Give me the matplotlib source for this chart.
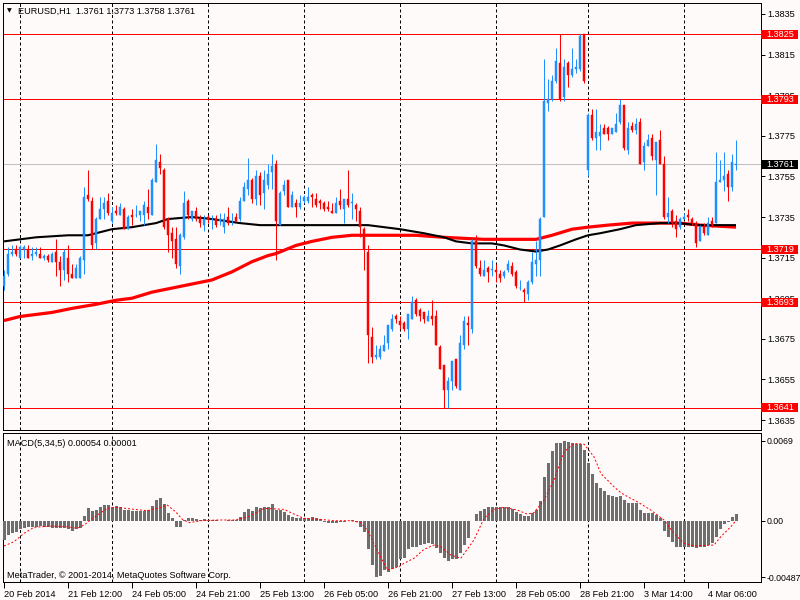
import matplotlib
matplotlib.use("Agg")
import matplotlib.pyplot as plt
from matplotlib.patches import Rectangle
import numpy as np

plt.rcParams['font.family'] = ['Liberation Sans', 'DejaVu Sans']

# EURUSD H1, one candle per hour from 20 Feb 2014 20:00 to 4 Mar 2014 07:00
opens = [
    1.3701, 1.3707, 1.3717, 1.3719, 1.3715, 1.3719, 1.3719, 1.3716, 1.3717, 1.3717,
    1.3715, 1.3716, 1.3713, 1.3718, 1.3713, 1.3709, 1.3715, 1.3707, 1.3705, 1.3705,
    1.3714, 1.3746, 1.3743, 1.3722, 1.3734, 1.3739, 1.3743, 1.3733, 1.3738, 1.3736,
    1.3739, 1.3729, 1.3736, 1.3736, 1.3736, 1.3736, 1.3740, 1.3736, 1.3752, 1.3762,
    1.3758, 1.3734, 1.3727, 1.3724, 1.3711, 1.3725, 1.3743, 1.3734, 1.3738, 1.3734,
    1.3731, 1.3735, 1.3734, 1.3734, 1.3733, 1.3730, 1.3735, 1.3733, 1.3735, 1.3734,
    1.3743, 1.3749, 1.3753, 1.3744, 1.3755, 1.3747, 1.3751, 1.3757, 1.3761, 1.3731,
    1.3748, 1.3753, 1.3740, 1.3742, 1.3740, 1.3743, 1.3743, 1.3746, 1.3744, 1.3743,
    1.3742, 1.3740, 1.3738, 1.3737, 1.3743, 1.3739, 1.3744, 1.3742, 1.3741, 1.3738,
    1.3729, 1.3718, 1.3676, 1.3666, 1.3666, 1.3669, 1.3673, 1.3680, 1.3686, 1.3684,
    1.3683, 1.3680, 1.3685, 1.3694, 1.3689, 1.3688, 1.3684, 1.3686, 1.3686, 1.3671,
    1.3662, 1.3650, 1.3654, 1.3665, 1.3650, 1.3672, 1.3683, 1.3680, 1.3723, 1.3710,
    1.3706, 1.3710, 1.3709, 1.3709, 1.3707, 1.3706, 1.3709, 1.3711, 1.3708, 1.3700,
    1.3699, 1.3697, 1.3703, 1.3712, 1.3714, 1.3735, 1.3791, 1.3793, 1.3802, 1.3811,
    1.3794, 1.3811, 1.3805, 1.3808, 1.3808, 1.3825, 1.3758, 1.3785, 1.3774, 1.3775,
    1.3779, 1.3779, 1.3776, 1.3777, 1.3782, 1.3790, 1.3768, 1.3780, 1.3778, 1.3782,
    1.3762, 1.3770, 1.3774, 1.3763, 1.3773, 1.3761, 1.3735, 1.3738, 1.3733, 1.3730,
    1.3734, 1.3736, 1.3734, 1.3732, 1.3723, 1.3730, 1.3726, 1.3733, 1.3732, 1.3752,
    1.3753, 1.3756, 1.3750, 1.3761,
]
highs = [
    1.3709, 1.3720, 1.3721, 1.3721, 1.3721, 1.3721, 1.3721, 1.3720, 1.3720, 1.3720,
    1.3717, 1.3717, 1.3718, 1.3724, 1.3716, 1.3719, 1.3721, 1.3712, 1.3712, 1.3716,
    1.3750, 1.3758, 1.3745, 1.3735, 1.3745, 1.3745, 1.3747, 1.3740, 1.3741, 1.3742,
    1.3740, 1.3736, 1.3739, 1.3741, 1.3738, 1.3743, 1.3749, 1.3754, 1.3771, 1.3766,
    1.3759, 1.3735, 1.3730, 1.3730, 1.3727, 1.3748, 1.3744, 1.3738, 1.3740, 1.3736,
    1.3736, 1.3736, 1.3736, 1.3736, 1.3737, 1.3737, 1.3740, 1.3737, 1.3737, 1.3745,
    1.3752, 1.3764, 1.3754, 1.3758, 1.3757, 1.3758, 1.3761, 1.3766, 1.3763, 1.3748,
    1.3753, 1.3753, 1.3748, 1.3744, 1.3746, 1.3746, 1.3750, 1.3747, 1.3747, 1.3744,
    1.3743, 1.3743, 1.3742, 1.3745, 1.3749, 1.3744, 1.3758, 1.3747, 1.3742, 1.3740,
    1.3730, 1.3721, 1.3681, 1.3672, 1.3672, 1.3677, 1.3682, 1.3687, 1.3687, 1.3686,
    1.3684, 1.3687, 1.3696, 1.3695, 1.3690, 1.3688, 1.3689, 1.3694, 1.3689, 1.3672,
    1.3662, 1.3656, 1.3664, 1.3665, 1.3677, 1.3686, 1.3686, 1.3724, 1.3726, 1.3714,
    1.3714, 1.3711, 1.3714, 1.3712, 1.3709, 1.3709, 1.3714, 1.3713, 1.3709, 1.3704,
    1.3700, 1.3704, 1.3718, 1.3723, 1.3735, 1.3813, 1.3803, 1.3805, 1.3818, 1.3825,
    1.3813, 1.3812, 1.3818, 1.3813, 1.3825, 1.3825, 1.3786, 1.3788, 1.3788, 1.3781,
    1.3781, 1.3780, 1.3779, 1.3786, 1.3793, 1.3790, 1.3782, 1.3782, 1.3784, 1.3784,
    1.3772, 1.3776, 1.3776, 1.3772, 1.3778, 1.3765, 1.3745, 1.3739, 1.3736, 1.3735,
    1.3737, 1.3739, 1.3735, 1.3733, 1.3731, 1.3732, 1.3735, 1.3735, 1.3767, 1.3763,
    1.3767, 1.3758, 1.3766, 1.3773,
]
lows = [
    1.3699, 1.3706, 1.3716, 1.3716, 1.3715, 1.3715, 1.3715, 1.3714, 1.3716, 1.3715,
    1.3714, 1.3713, 1.3713, 1.3706, 1.3701, 1.3704, 1.3703, 1.3705, 1.3705, 1.3705,
    1.3707, 1.3743, 1.3719, 1.3719, 1.3734, 1.3734, 1.3736, 1.3732, 1.3736, 1.3736,
    1.3729, 1.3729, 1.3731, 1.3735, 1.3733, 1.3731, 1.3734, 1.3736, 1.3752, 1.3756,
    1.3729, 1.3718, 1.3715, 1.3710, 1.3707, 1.3724, 1.3734, 1.3733, 1.3733, 1.3730,
    1.3728, 1.3732, 1.3729, 1.3730, 1.3731, 1.3727, 1.3731, 1.3731, 1.3733, 1.3733,
    1.3743, 1.3746, 1.3742, 1.3741, 1.3741, 1.3739, 1.3749, 1.3749, 1.3714, 1.3731,
    1.3746, 1.3740, 1.3740, 1.3735, 1.3739, 1.3742, 1.3742, 1.3740, 1.3740, 1.3739,
    1.3738, 1.3738, 1.3737, 1.3737, 1.3739, 1.3732, 1.3740, 1.3734, 1.3733, 1.3725,
    1.3709, 1.3663, 1.3663, 1.3665, 1.3665, 1.3669, 1.3670, 1.3679, 1.3683, 1.3680,
    1.3679, 1.3675, 1.3685, 1.3686, 1.3684, 1.3683, 1.3684, 1.3682, 1.3672, 1.3660,
    1.3641, 1.3641, 1.3650, 1.3651, 1.3650, 1.3670, 1.3672, 1.3678, 1.3710, 1.3706,
    1.3706, 1.3703, 1.3706, 1.3703, 1.3703, 1.3705, 1.3708, 1.3706, 1.3700, 1.3699,
    1.3693, 1.3694, 1.3702, 1.3706, 1.3706, 1.3735, 1.3787, 1.3792, 1.3801, 1.3792,
    1.3792, 1.3799, 1.3804, 1.3806, 1.3807, 1.3801, 1.3755, 1.3773, 1.3768, 1.3768,
    1.3776, 1.3773, 1.3776, 1.3777, 1.3781, 1.3768, 1.3766, 1.3777, 1.3776, 1.3761,
    1.3758, 1.3770, 1.3763, 1.3746, 1.3761, 1.3734, 1.3732, 1.3730, 1.3725, 1.3729,
    1.3734, 1.3733, 1.3731, 1.3720, 1.3723, 1.3726, 1.3726, 1.3730, 1.3732, 1.3752,
    1.3748, 1.3743, 1.3748, 1.3758,
]
closes = [
    1.3706, 1.3717, 1.3718, 1.3717, 1.3720, 1.3720, 1.3715, 1.3717, 1.3718, 1.3715,
    1.3716, 1.3714, 1.3717, 1.3713, 1.3709, 1.3718, 1.3707, 1.3705, 1.3710, 1.3715,
    1.3745, 1.3744, 1.3721, 1.3734, 1.3739, 1.3742, 1.3737, 1.3737, 1.3737, 1.3740,
    1.3729, 1.3735, 1.3735, 1.3736, 1.3738, 1.3741, 1.3737, 1.3753, 1.3763, 1.3759,
    1.3730, 1.3726, 1.3723, 1.3712, 1.3726, 1.3742, 1.3736, 1.3738, 1.3734, 1.3732,
    1.3734, 1.3734, 1.3734, 1.3731, 1.3734, 1.3734, 1.3732, 1.3733, 1.3733, 1.3743,
    1.3750, 1.3753, 1.3744, 1.3755, 1.3746, 1.3753, 1.3756, 1.3760, 1.3733, 1.3747,
    1.3751, 1.3740, 1.3746, 1.3740, 1.3742, 1.3745, 1.3745, 1.3745, 1.3741, 1.3742,
    1.3739, 1.3739, 1.3737, 1.3742, 1.3741, 1.3744, 1.3741, 1.3742, 1.3739, 1.3730,
    1.3719, 1.3677, 1.3666, 1.3667, 1.3670, 1.3672, 1.3682, 1.3685, 1.3685, 1.3682,
    1.3680, 1.3687, 1.3693, 1.3687, 1.3686, 1.3685, 1.3686, 1.3685, 1.3672, 1.3660,
    1.3650, 1.3654, 1.3664, 1.3652, 1.3673, 1.3684, 1.3682, 1.3723, 1.3711, 1.3707,
    1.3709, 1.3708, 1.3709, 1.3708, 1.3705, 1.3708, 1.3712, 1.3707, 1.3701, 1.3700,
    1.3698, 1.3703, 1.3713, 1.3714, 1.3734, 1.3792, 1.3793, 1.3802, 1.3812, 1.3793,
    1.3809, 1.3805, 1.3808, 1.3809, 1.3824, 1.3802, 1.3785, 1.3774, 1.3777, 1.3777,
    1.3776, 1.3776, 1.3779, 1.3781, 1.3790, 1.3769, 1.3779, 1.3778, 1.3781, 1.3761,
    1.3770, 1.3773, 1.3765, 1.3772, 1.3761, 1.3735, 1.3737, 1.3732, 1.3729, 1.3734,
    1.3735, 1.3735, 1.3732, 1.3722, 1.3730, 1.3727, 1.3732, 1.3731, 1.3752, 1.3753,
    1.3755, 1.3750, 1.3762, 1.3761,
]

# moving averages (bar index, value)
ma_black_bars = [0, 8, 16, 21, 27, 32, 38, 41, 47, 52, 59, 64, 77, 91, 99, 105, 110, 113,
                 117, 122, 125, 129, 133, 136, 139, 143, 146, 149, 154, 158, 164, 168, 174, 183]
ma_black_vals = [1.3723, 1.3725, 1.3726, 1.3726, 1.3729, 1.3730, 1.3732, 1.3734, 1.3735, 1.3734,
                 1.3732, 1.3731, 1.3731, 1.3731, 1.3729, 1.3727, 1.3725, 1.3723, 1.3722, 1.3722,
                 1.3721, 1.3719, 1.3718, 1.3719, 1.3721, 1.3724, 1.3726, 1.3727, 1.3729, 1.3731,
                 1.3732, 1.3732, 1.3731, 1.3731]
ma_red_bars = [0, 4, 12, 17, 23, 28, 32, 37, 42, 47, 52, 57, 62, 66, 68, 73, 77, 82, 87,
               103, 110, 120, 133, 137, 142, 146, 151, 157, 169, 174, 183]
ma_red_vals = [1.3684, 1.3686, 1.3688, 1.3690, 1.3692, 1.3694, 1.3695, 1.3698, 1.3700, 1.3702,
               1.3704, 1.3708, 1.3713, 1.3716, 1.3717, 1.3721, 1.3723, 1.3725, 1.3726,
               1.3726, 1.3725, 1.3724, 1.3724, 1.3726, 1.3729, 1.3730, 1.3731, 1.3732, 1.3732,
               1.3731, 1.3730]

level_lines = [1.3825, 1.3793, 1.3719, 1.3693, 1.3641]
bid_price = 1.3761

# MACD(5,34,5) histogram
macd_hist = [
    -0.00166, -0.00123, -0.00109, -0.00095, -0.00075, -0.00066, -0.00057, -0.00052, -0.00052, -0.00046,
    -0.00052, -0.00057, -0.00060, -0.00066, -0.00066, -0.00060, -0.00069, -0.00086, -0.00075, -0.00060,
    0.00040, 0.00106, 0.00083, 0.00092, 0.00115, 0.00132, 0.00132, 0.00115, 0.00126, 0.00121,
    0.00092, 0.00092, 0.00086, 0.00086, 0.00086, 0.00086, 0.00092, 0.00126, 0.00178, 0.00192,
    0.00144, 0.00063, 0.00020, -0.00057, -0.00057, 0.00006, 0.00020, 0.00020, 0.00011, 0.00006,
    0.00011, 0.00006, 0.00006, 0.00002, 0.00001, -0.00001, 0.00006, 0.00006, 0.00006, 0.00029,
    0.00077, 0.00098, 0.00086, 0.00115, 0.00106, 0.00115, 0.00121, 0.00144, 0.00092, 0.00092,
    0.00077, 0.00049, 0.00029, 0.00020, 0.00020, 0.00020, 0.00026, 0.00029, 0.00020, 0.00011,
    -0.00009, -0.00017, -0.00023, -0.00017, -0.00011, -0.00009, -0.00006, 0.00006, -0.00009, -0.00052,
    -0.00095, -0.00247, -0.00382, -0.00487, -0.00480, -0.00425, -0.00439, -0.00419, -0.00396, -0.00333,
    -0.00324, -0.00247, -0.00230, -0.00224, -0.00210, -0.00204, -0.00195, -0.00201, -0.00238, -0.00281,
    -0.00324, -0.00344, -0.00333, -0.00333, -0.00276, -0.00210, -0.00152, -0.00006, 0.00057, 0.00083,
    0.00098, 0.00115, 0.00121, 0.00121, 0.00115, 0.00115, 0.00115, 0.00098, 0.00077, 0.00057,
    0.00040, 0.00040, 0.00063, 0.00092, 0.00169, 0.00379, 0.00499, 0.00603, 0.00672, 0.00672,
    0.00690, 0.00680, 0.00672, 0.00660, 0.00660, 0.00614, 0.00494, 0.00402, 0.00327, 0.00278,
    0.00255, 0.00221, 0.00212, 0.00207, 0.00212, 0.00178, 0.00155, 0.00149, 0.00155, 0.00092,
    0.00069, 0.00063, 0.00063, 0.00049, 0.00020, -0.00086, -0.00144, -0.00181, -0.00224, -0.00224,
    -0.00224, -0.00230, -0.00230, -0.00238, -0.00230, -0.00224, -0.00210, -0.00189, -0.00138, -0.00075,
    -0.00029, -0.00011, 0.00029, 0.00054,
]
# MACD signal line (bar index, value)
signal_bars = [0, 2.5, 5, 7.5, 11.7, 15.8, 18.3, 20, 22.5, 25.8, 28.3, 32.5, 35.8, 39.2, 40.8,
               42.9, 44.6, 46.3, 49.2, 53.3, 57.5, 60.8, 65, 70, 72.5, 75, 79.2, 82.5, 86.7,
               89.2, 90.8, 93.3, 95.8, 98.8, 100, 102.5, 105, 107.5, 109.2, 111.7, 114.2, 117.5,
               120, 122.5, 125, 128.3, 130.8, 132.5, 135, 137.5, 140, 142.5, 145, 147.5, 149.2,
               152.5, 154.2, 156.7, 158.3, 161.7, 165, 167.5, 170, 172.5, 177.5, 179.2, 181.7, 183]
signal_vals = [-0.00218, -0.00181, -0.00109, -0.00057, -0.00046, -0.00052, -0.00066, -0.00037,
               0.00029, 0.00106, 0.00115, 0.00098, 0.00086, 0.00115, 0.00135, 0.00077, 0.00011,
               -0.00017, 0.00000, 0.00006, 0.00006, 0.00029, 0.00106, 0.00098, 0.00057, 0.00020,
               0.00011, 0.00000, 0.00000, -0.00017, -0.00080, -0.00253, -0.00425, -0.00396,
               -0.00367, -0.00324, -0.00247, -0.00210, -0.00224, -0.00296, -0.00324, -0.00166,
               0.00020, 0.00098, 0.00115, 0.00092, 0.00057, 0.00069, 0.00178, 0.00350, 0.00594,
               0.00666, 0.00660, 0.00551, 0.00408, 0.00293, 0.00241, 0.00192, 0.00164, 0.00092,
               0.00006, -0.00109, -0.00195, -0.00218, -0.00210, -0.00138, -0.00052, 0.00001]

tick_bars = [0, 16, 32, 48, 64, 80, 96, 112, 128, 144, 160, 176]
tick_labels = ['20 Feb 2014', '21 Feb 12:00', '24 Feb 05:00', '24 Feb 21:00', '25 Feb 13:00',
               '26 Feb 05:00', '26 Feb 21:00', '27 Feb 13:00', '28 Feb 05:00', '28 Feb 21:00',
               '3 Mar 14:00', '4 Mar 06:00']
day_bars = [4, 27, 51, 75, 99, 123, 146, 170]

price_ticks = [1.3635, 1.3655, 1.3675, 1.3695, 1.3715, 1.3735, 1.3755, 1.3775, 1.3795, 1.3815, 1.3835]
macd_ticks = [-0.00487, 0.0, 0.0069]
macd_tick_labels = ['-0.00487', '0.00', '0.0069']

BG = '#FFFAFA'
UP = '#1E90FF'
DOWN = '#FF0000'
FS = 6.6
PX = 0.72  # one pixel in points

W, H = 800, 600
fig = plt.figure(figsize=(8, 6), dpi=100, facecolor=BG)


def px_axes(left, top, right, bottom):
    return fig.add_axes([left / W, 1 - bottom / H, (right - left) / W, (bottom - top) / H])


ax = px_axes(3, 3, 761, 430)
ax2 = px_axes(3, 433, 761, 582)

n = len(closes)
x = np.arange(n)
o = np.array(opens)
c = np.array(closes)
up = c >= o
cols = np.where(up, UP, DOWN)

for a in (ax, ax2):
    a.set_facecolor(BG)
    a.set_xlim(-0.25, 189.25)
    for s in a.spines.values():
        s.set_linewidth(PX)
        s.set_color('black')
    for d in day_bars:
        a.axvline(d, color='black', lw=PX, ls=(0, (3, 2.5)), zorder=1)

# --- price panel ---
ax.set_ylim(1.36301, 1.38404)
for lv in level_lines:
    ax.axhline(lv, color='red', lw=PX, zorder=2)
ax.axhline(bid_price, color='#C0C0C0', lw=PX, zorder=2)

ax.plot(ma_red_bars, ma_red_vals, color='red', lw=2.3, zorder=3, solid_capstyle='butt')
ax.plot(ma_black_bars, ma_black_vals, color='black', lw=1.5, zorder=4, solid_capstyle='butt')

ax.vlines(x, lows, highs, colors=cols, lw=PX, zorder=5)
doji = np.abs(c - o) < 0.00004
body = np.where(doji, 0.00004, np.abs(c - o))
ax.bar(x, body, bottom=np.minimum(o, c) - np.where(doji, 0.00002, 0), width=0.72,
       color=cols, edgecolor=cols, linewidth=0.35, zorder=6)

ax.set_xticks([])
ax.yaxis.tick_right()
ax.set_yticks(price_ticks)
ax.set_yticklabels(['%.4f' % p for p in price_ticks])
ax.tick_params(axis='y', direction='out', length=3, width=PX, pad=1.8, labelsize=FS)

ytr = ax.get_yaxis_transform()
box_h = 0.00045
for lv, fc in [(l, 'red') for l in level_lines] + [(bid_price, 'black')]:
    ax.add_patch(Rectangle((1.0, lv - box_h / 2), 37 / 758, box_h, transform=ytr,
                           facecolor=fc, edgecolor='none', clip_on=False, zorder=10))
    ax.text(1.0 + 5 / 758, lv, '%.4f' % lv, transform=ytr, color='white', fontsize=FS,
            va='center', ha='left', clip_on=False, zorder=11)

fig.text(7 / W, 1 - 11 / H, '\u25bc', fontsize=4.5, va='center', ha='left',
         family=['DejaVu Sans'])
fig.text(18 / W, 1 - 11 / H, 'EURUSD,H1  1.3761 1.3773 1.3758 1.3761', fontsize=FS,
         va='center', ha='left')

# --- MACD panel ---
ax2.set_ylim(-0.005287, 0.007564)
ax2.bar(x, macd_hist, width=0.75, color='#6E6E6E', linewidth=0, zorder=3)
ax2.plot(signal_bars, signal_vals, color='red', lw=PX, ls=(0, (2, 2)), zorder=4)

ax2.yaxis.tick_right()
ax2.set_yticks(macd_ticks)
ax2.set_yticklabels(macd_tick_labels)
ax2.tick_params(axis='y', direction='out', length=3, width=PX, pad=1.0, labelsize=6.3)

ax2.set_xticks(tick_bars)
ax2.set_xticklabels(tick_labels)
ax2.tick_params(axis='x', direction='out', length=4, width=PX, pad=1.5, labelsize=FS)
for lbl in ax2.get_xticklabels():
    lbl.set_ha('left')

fig.text(7 / W, 1 - 443 / H, 'MACD(5,34,5) 0.00054 0.00001', fontsize=FS, va='center', ha='left')
fig.text(7 / W, 1 - 575 / H, 'MetaTrader, \u00a9 2001-2014, MetaQuotes Software Corp.', fontsize=FS,
         va='center', ha='left')

fig.savefig('out.png', dpi=100, facecolor=BG)
